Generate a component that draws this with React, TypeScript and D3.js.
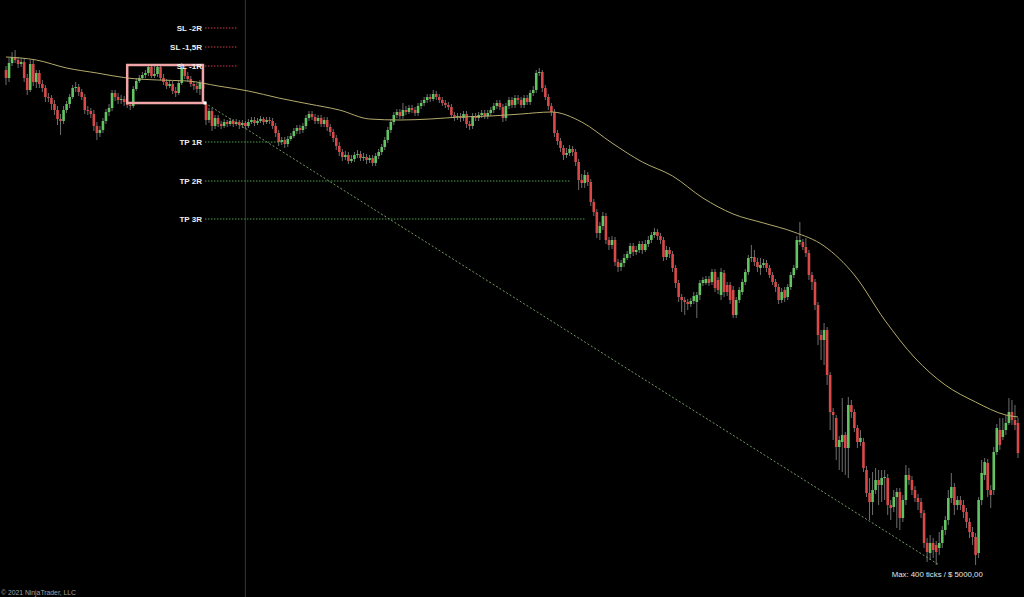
import React from 'react';
import * as d3 from 'd3';

// OHLC data (price points)
const opens = [
530,522,537,543,540,536,538,522,510,536,518,527,516,512,503,502,496,490,481,479,
490,496,503,512,513,508,503,490,489,486,474,467,470,479,488,492,507,503,500,501,
498,495,494,511,519,522,525,527,533,524,526,533,522,518,514,516,509,507,517,532,
524,521,516,514,511,517,496,480,489,474,482,476,474,478,476,479,476,478,475,477,
474,478,480,477,479,481,478,480,479,474,467,458,460,456,461,464,469,472,470,474,
482,486,483,479,482,476,480,473,468,462,454,448,443,445,439,441,445,446,442,443,
440,442,437,444,448,453,460,470,478,485,488,484,490,488,492,490,487,494,497,500,
503,501,506,503,500,497,495,493,485,483,484,482,486,476,474,484,482,485,487,484,
487,490,494,497,493,482,494,500,495,502,500,495,502,498,507,510,527,528,512,503,
494,488,467,459,452,445,447,451,448,438,420,417,425,418,398,388,367,374,384,360,
355,360,338,333,337,342,346,354,348,350,356,350,356,360,365,368,364,360,343,350,
346,332,317,303,300,298,296,299,298,305,317,317,321,318,328,320,305,327,315,315,
310,285,300,308,318,328,342,343,338,332,335,337,332,325,318,313,300,310,303,313,
325,332,358,358,353,347,325,318,295,265,260,270,225,188,182,153,158,165,152,195,
188,172,158,158,130,107,98,110,120,115,122,122,95,93,103,108,82,100,125,120,
110,102,98,87,57,47,57,55,52,57,70,80,102,113,95,100,95,88,78,68,
63,47,100,125,137,110,110,148,170,163,170,177,188,180,177
];
const highs = [
534,542,548,550,543,542,542,526,540,540,530,530,520,515,507,505,500,494,486,494,
499,506,515,518,516,511,506,494,492,490,478,474,482,491,496,510,510,507,505,504,
501,498,514,522,525,528,530,536,536,534,535,535,526,521,520,519,513,520,537,534,
528,524,519,517,520,520,499,492,492,485,485,479,481,480,482,481,481,480,480,479,
481,483,483,482,484,483,483,483,482,477,470,463,463,464,467,472,475,475,477,485,
489,489,486,485,485,483,483,476,471,465,458,451,449,448,445,448,450,449,447,446,
445,445,447,451,456,463,473,481,488,491,491,497,494,495,495,493,497,500,503,506,
506,510,509,506,503,500,498,496,488,487,487,489,489,479,487,487,488,490,490,490,
493,497,500,500,496,497,503,503,505,505,503,505,505,510,514,530,532,530,515,506,
497,491,470,462,455,452,455,454,451,441,426,430,428,421,401,391,378,388,387,363,
364,363,341,340,346,349,357,357,354,359,359,360,364,368,372,371,367,363,354,353,
349,335,320,306,303,301,302,308,308,320,323,324,324,331,331,323,332,330,318,318,
314,303,313,321,331,345,355,350,342,342,341,340,335,328,321,316,312,313,316,328,
335,364,378,361,362,350,328,321,298,270,277,273,228,192,185,164,202,168,203,200,
191,175,170,162,134,122,128,132,130,130,130,126,100,110,112,112,105,135,132,124,
114,106,102,90,62,65,62,59,68,74,84,110,127,117,104,104,100,92,82,73,
67,103,140,142,141,115,153,176,182,182,185,202,200,195,182
];
const lows = [
515,518,534,537,532,533,518,505,508,514,512,512,508,498,498,490,485,475,465,476,
487,492,501,508,504,500,486,485,482,469,460,463,467,476,484,489,499,496,496,494,
492,490,492,509,517,520,522,524,522,522,523,520,515,511,512,506,503,505,515,521,
518,513,510,507,505,500,475,477,469,471,473,471,472,473,474,473,474,471,472,471,
472,476,474,475,477,475,476,476,471,463,454,455,452,453,459,462,466,466,467,471,
479,480,476,476,473,473,469,464,458,450,444,439,440,436,437,438,442,439,439,436,
437,434,434,441,445,450,457,467,475,482,481,481,485,486,487,484,484,491,494,497,
498,499,500,497,494,492,490,482,479,480,478,479,472,470,471,479,479,482,481,481,
484,487,491,490,478,479,491,492,492,496,492,492,495,495,504,507,524,508,500,490,
484,463,455,448,440,442,444,444,434,410,412,412,414,394,384,362,360,370,356,350,
351,334,328,329,333,340,342,344,345,347,346,348,353,357,362,360,356,339,340,342,
328,312,298,288,285,290,293,296,282,300,314,315,314,315,308,306,300,303,304,296,
282,282,297,305,315,325,338,334,328,325,332,328,322,315,308,296,297,298,300,310,
322,330,355,350,343,320,310,290,255,240,235,215,170,160,140,130,128,125,122,182,
168,152,154,128,103,80,85,106,95,98,100,85,80,88,72,70,78,95,115,105,
98,90,82,52,38,40,42,35,45,52,65,75,97,85,90,90,82,72,62,55,
35,42,95,120,103,92,105,145,150,160,165,175,175,170,142
];
const closes = [
522,537,543,540,536,538,522,510,536,518,527,516,512,503,502,496,490,481,479,490,
496,503,512,513,508,503,490,489,486,474,467,470,479,488,492,507,503,500,501,498,
495,494,511,519,522,525,527,533,524,526,533,522,518,514,516,509,507,517,532,524,
521,516,514,511,517,512,480,489,474,482,476,474,478,476,479,476,478,475,477,474,
478,480,477,479,481,478,480,479,474,467,458,460,456,461,464,469,472,470,474,482,
486,483,479,482,476,480,473,468,462,454,448,443,445,439,441,445,446,442,443,440,
442,437,444,448,453,460,470,478,485,488,484,490,488,492,490,487,494,497,500,503,
501,506,503,500,497,495,493,485,483,484,482,486,476,474,484,482,485,487,484,487,
490,494,497,493,482,494,500,495,502,500,495,502,498,507,510,527,528,512,503,494,
488,467,459,452,445,447,451,448,438,420,417,425,418,398,388,367,374,384,360,355,
360,338,333,337,342,346,354,348,350,356,350,356,360,365,368,364,360,343,350,346,
332,317,303,300,298,296,299,304,305,317,320,321,317,328,312,310,328,308,308,300,
285,300,310,318,328,342,343,338,333,335,337,332,325,318,313,300,308,302,313,325,
332,360,360,353,347,325,318,295,265,260,270,225,188,185,153,160,165,152,195,188,
172,158,162,132,107,98,110,120,115,122,123,95,92,103,108,82,100,125,120,110,
102,98,87,57,48,57,50,48,57,70,80,102,113,95,100,95,88,78,68,63,
45,100,127,138,110,105,148,172,155,170,177,188,180,175,147
];

// Moving average (sampled at candle indices)
const maIndex = [0,10,20,30,40,50,60,70,80,90,100,110,120,130,140,150,160,170,180,190,200,210,220,230,240,250,260,270,280,290,300,310,320,330,334];
const maValues = [543,540,532,527,522,520,519,514,509,502,496,490,481,480,481,483,484,486,488,478,457,438,424,402,386,377,368,354,325,280,242,215,198,185,183];

// Trade levels
const slLabels = ['SL -2R', 'SL -1,5R', 'SL -1R'];
const slPrices = [572, 553, 534];
const tpLabels = ['TP 1R', 'TP 2R', 'TP 3R'];
const tpPrices = [458, 419, 381];
const tpEndIndex = [91, 186, 191];
const boxStartIndex = 40;
const boxEndIndex = 65;
const entryPrice = 497;
const stopPrice = 535;
const maxEndIndex = 308;
const maxEndPrice = 35;
const crosshairIndex = 79;
const maxLabel = 'Max: 400 ticks / $ 5000,00';
const copyright = '© 2021 NinjaTrader, LLC';

const W = 1024;
const H = 597;

export default function App() {
  const n = closes.length;
  const x = d3.scaleLinear().domain([0, n - 1]).range([6, 1018]);
  const y = d3.scaleLinear().domain([3, 600]).range([H, 0]);
  const green = '#63c463';
  const red = '#d84a4a';
  const font = '"Liberation Sans", Arial, sans-serif';

  const maLine = d3.line<number>()
    .x((_, i) => x(maIndex[i]))
    .y((d) => y(d))
    .curve(d3.curveMonotoneX)(maValues) || '';

  const lineStart = x(boxEndIndex) + 2;
  const slEnd = lineStart + 32;

  return (
    <svg width={W} height={H} style={{ position: 'fixed', left: 0, top: 0, background: '#000' }}>
      <rect x={0} y={0} width={W} height={H} fill="#000" />
      {/* crosshair vertical */}
      <line x1={x(crosshairIndex)} x2={x(crosshairIndex)} y1={0} y2={H} stroke="#2e3b30" strokeWidth={1} />
      {/* candles */}
      {closes.map((c, i) => {
        const o = opens[i];
        const up = c >= o;
        const top = y(Math.max(o, c));
        const bot = y(Math.min(o, c));
        const cx = x(i);
        return (
          <g key={i}>
            <line x1={cx} x2={cx} y1={y(highs[i])} y2={y(lows[i])} stroke="#8a8a8a" strokeWidth={0.8} />
            <rect x={cx - 1.3} y={top} width={2.6} height={Math.max(1, bot - top)} fill={up ? green : red} />
          </g>
        );
      })}
      {/* moving average */}
      <path d={maLine} fill="none" stroke="#b3ab6c" strokeWidth={1} />
      {/* max excursion diagonal */}
      <line x1={lineStart} y1={y(entryPrice)} x2={x(maxEndIndex)} y2={y(maxEndPrice)} stroke="#739a66" strokeWidth={1} strokeDasharray="2 2" />
      {/* entry box */}
      <rect x={x(boxStartIndex)} y={y(stopPrice)} width={x(boxEndIndex) - x(boxStartIndex)} height={y(entryPrice) - y(stopPrice)} fill="none" stroke="#f0a6a6" strokeWidth={2.5} />
      <circle cx={lineStart} cy={y(entryPrice)} r={1.8} fill="#ffffff" />
      {/* SL levels */}
      {slPrices.map((p, i) => (
        <g key={'sl' + i}>
          <line x1={lineStart} x2={slEnd} y1={y(p)} y2={y(p)} stroke="#c83c4c" strokeWidth={1} strokeDasharray="1.5 1.5" />
          <text x={lineStart - 3} y={y(p)} dy="0.35em" textAnchor="end" fill="#eeeeee" fontSize={8} fontWeight="bold" fontFamily={font}>{slLabels[i]}</text>
        </g>
      ))}
      {/* TP levels */}
      {tpPrices.map((p, i) => (
        <g key={'tp' + i}>
          <line x1={lineStart} x2={x(tpEndIndex[i])} y1={y(p)} y2={y(p)} stroke="#4aa04a" strokeWidth={1} strokeDasharray="1.5 1.5" />
          <text x={lineStart - 3} y={y(p)} dy="0.35em" textAnchor="end" fill="#eeeeee" fontSize={8} fontWeight="bold" fontFamily={font}>{tpLabels[i]}</text>
        </g>
      ))}
      <text x={x(maxEndIndex) - 2} y={577} textAnchor="middle" fill="#e6e6e6" fontSize={7.8} fontFamily={font}>{maxLabel}</text>
      <text x={1} y={595} fill="#a0a0a0" fontSize={6.8} fontFamily={font}>{copyright}</text>
    </svg>
  );
}
